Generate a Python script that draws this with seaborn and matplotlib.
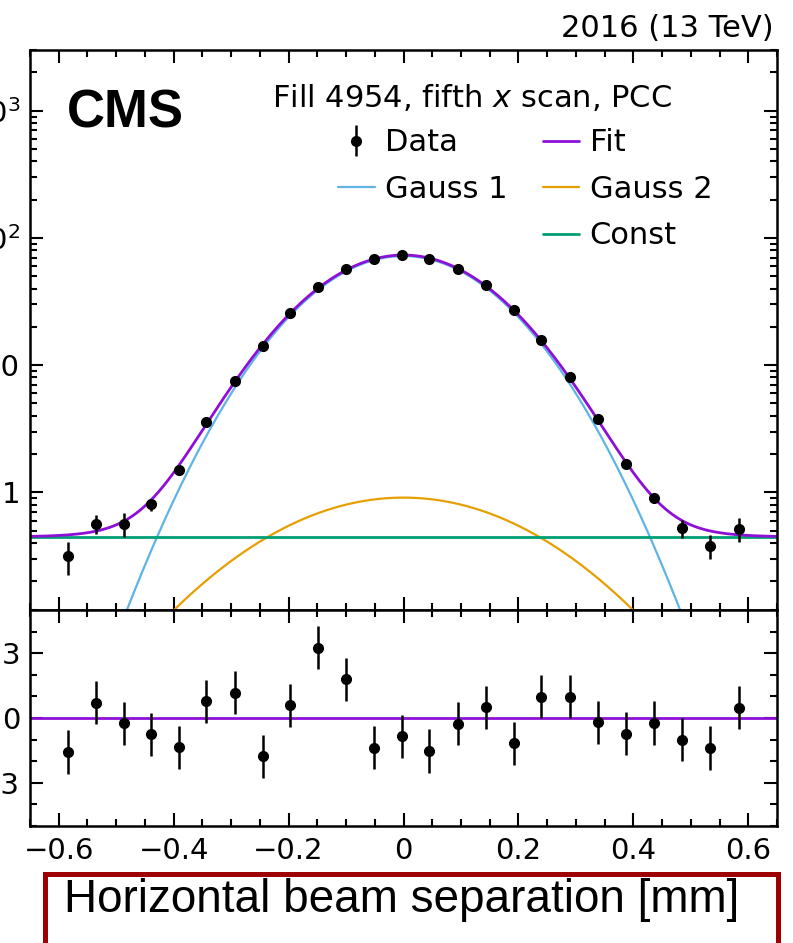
import matplotlib
matplotlib.use("Agg")
import matplotlib.pyplot as plt
import matplotlib.ticker as mticker
from matplotlib.lines import Line2D
from matplotlib.patches import Rectangle
import numpy as np
import pandas as pd
import seaborn as sns

# beam separation of each scan step [mm]
separation = [-0.584, -0.536, -0.487, -0.440, -0.391, -0.343, -0.294, -0.245, -0.197,
              -0.149, -0.100, -0.052, -0.003, 0.045, 0.094, 0.144, 0.192, 0.240,
              0.289, 0.339, 0.388, 0.436, 0.485, 0.534, 0.583]
# normalised rate (data points)
rate = [0.315, 0.568, 0.565, 0.805, 1.51, 3.58, 7.56, 14.2, 25.7,
        41.3, 56.6, 67.8, 73.2, 68.8, 57.4, 42.4, 27.0, 15.8,
        8.13, 3.76, 1.68, 0.897, 0.522, 0.382, 0.519]
rate_err = [0.09, 0.095, 0.12, 0.09, 0.12, 0.17, 0.22, 0.28, 0.33,
            0.37, 0.40, 0.42, 0.43, 0.42, 0.40, 0.37, 0.33, 0.28,
            0.22, 0.17, 0.12, 0.07, 0.085, 0.083, 0.11]
# pulls shown in the lower panel
pulls = [-1.57, 0.70, -0.25, -0.75, -1.36, 0.78, 1.18, -1.78, 0.59,
         3.25, 1.80, -1.37, -0.85, -1.53, -0.27, 0.50, -1.17, 0.98,
         0.98, -0.19, -0.72, -0.23, -1.00, -1.39, 0.48]

# fit components (double gaussian + constant)
gauss1_amp, gauss1_sigma = 72.0, 0.1345
gauss2_amp, gauss2_sigma = 0.91, 0.198
const_level = 0.446

COL_FIT = "#8E10D8"
COL_G1 = "#5DB4E5"
COL_G2 = "#E69F00"
COL_CONST = "#009E73"

sns.set_theme(style="ticks")
plt.rcParams["font.family"] = ["DejaVu Sans"]
plt.rcParams.update({
    "axes.linewidth": 1.8,
    "axes.edgecolor": "black",
    "text.color": "black",
    "axes.labelcolor": "black",
    "xtick.color": "black",
    "ytick.color": "black",
    "xtick.direction": "in",
    "ytick.direction": "in",
})

xs = np.linspace(-0.65, 0.65, 600)
g1 = gauss1_amp * np.exp(-xs**2 / (2 * gauss1_sigma**2))
g2 = gauss2_amp * np.exp(-xs**2 / (2 * gauss2_sigma**2))
cst = np.full_like(xs, const_level)
curves = pd.DataFrame({"x": xs, "g1": g1, "g2": g2, "const": cst, "fit": g1 + g2 + cst})

fig = plt.figure(figsize=(7.93, 9.43), dpi=100)
W, H = 793, 943
ax1 = fig.add_axes([30 / W, 1 - 610 / H, 747 / W, 560 / H])
ax2 = fig.add_axes([30 / W, 1 - 826 / H, 747 / W, 216 / H], sharex=ax1)

ax1.set_yscale("log")
sns.lineplot(data=curves, x="x", y="g1", ax=ax1, color=COL_G1, linewidth=1.6)
sns.lineplot(data=curves, x="x", y="g2", ax=ax1, color=COL_G2, linewidth=1.6)
sns.lineplot(data=curves, x="x", y="const", ax=ax1, color=COL_CONST, linewidth=2.0)
sns.lineplot(data=curves, x="x", y="fit", ax=ax1, color=COL_FIT, linewidth=2.0)
data_h = ax1.errorbar(separation, rate, yerr=rate_err, fmt="o", color="black",
                      markersize=7, elinewidth=1.8, capsize=0, zorder=5)

ax1.set_xlim(-0.65, 0.65)
ax1.set_ylim(0.119, 3000)
ax1.set_xlabel("")
ax1.set_ylabel("")


def log_label(v, pos):
    labels = {1: "1", 10: "10", 100: r"$10^{2}$", 1000: r"$10^{3}$"}
    return labels.get(int(round(v)), "") if v >= 1 else ""


ax1.yaxis.set_major_locator(mticker.LogLocator(base=10))
ax1.yaxis.set_minor_locator(mticker.LogLocator(base=10, subs=np.arange(2, 10)))
ax1.yaxis.set_major_formatter(mticker.FuncFormatter(log_label))
ax1.yaxis.set_minor_formatter(mticker.NullFormatter())
ax1.tick_params(axis="x", labelbottom=False)

# pull panel
sns.lineplot(x=[-0.65, 0.65], y=[0, 0], ax=ax2, color=COL_FIT, linewidth=2.0)
ax2.errorbar(separation, pulls, yerr=1.0, fmt="o", color="black",
             markersize=7, elinewidth=1.8, capsize=0, zorder=5)
ax2.set_ylim(-5, 5)
ax2.set_xlabel("")
ax2.set_ylabel("")
ax2.yaxis.set_major_locator(mticker.MultipleLocator(3))
ax2.yaxis.set_minor_locator(mticker.MultipleLocator(1))
ax2.xaxis.set_major_locator(mticker.MultipleLocator(0.2))
ax2.xaxis.set_minor_locator(mticker.MultipleLocator(0.05))
ax2.xaxis.set_major_formatter(mticker.FuncFormatter(lambda v, p: "0" if abs(v) < 1e-9 else f"{v:.1f}".replace("-", "\u2212")))

for ax in (ax1, ax2):
    ax.tick_params(which="both", direction="in", top=True, right=True, width=1.5,
                   labelsize=21, colors="black")
    ax.tick_params(which="major", length=9.5)
    ax.tick_params(which="minor", length=5)
    ax.tick_params(axis="y", pad=7)
    ax.tick_params(axis="x", pad=8)

ax1.text(0.0491, 0.8616, "CMS", transform=ax1.transAxes, fontsize=38, fontweight="bold",
         family="Liberation Sans", ha="left", va="baseline")
ax1.text(0.996, 1.0238, "2016 (13 TeV)", transform=ax1.transAxes, fontsize=22,
         ha="right", va="baseline")
ax1.text(0.324, 0.8988, "Fill 4954, fifth $x$ scan, PCC", transform=ax1.transAxes,
         fontsize=22, ha="left", va="baseline")

blank = Line2D([], [], linestyle="none", label=" ")
handles = [data_h,
           Line2D([], [], color=COL_G1, linewidth=1.6),
           blank,
           Line2D([], [], color=COL_FIT, linewidth=2.0),
           Line2D([], [], color=COL_G2, linewidth=1.6),
           Line2D([], [], color=COL_CONST, linewidth=2.0)]
labels = ["Data", "Gauss 1", " ", "Fit", "Gauss 2", "Const"]
ax1.legend(handles, labels, ncol=2, loc="upper left", bbox_to_anchor=(0.4123, 0.860),
           frameon=False, fontsize=22, borderpad=0, borderaxespad=0,
           handlelength=1.21, handletextpad=0.33, columnspacing=1.14, labelspacing=0.57)

# boxed axis title at the bottom
fig.add_artist(Rectangle((44.5 / W, -0.05), 733 / W, (1 - 874 / H) + 0.05,
                         transform=fig.transFigure, fill=False, edgecolor="#9C0000",
                         linewidth=3.6, clip_on=False))
fig.text(401.5 / W, 1 - 912 / H, "Horizontal beam separation [mm]", ha="center",
         va="baseline", fontsize=33, family="Liberation Sans")

fig.savefig("out.png", dpi=100)
